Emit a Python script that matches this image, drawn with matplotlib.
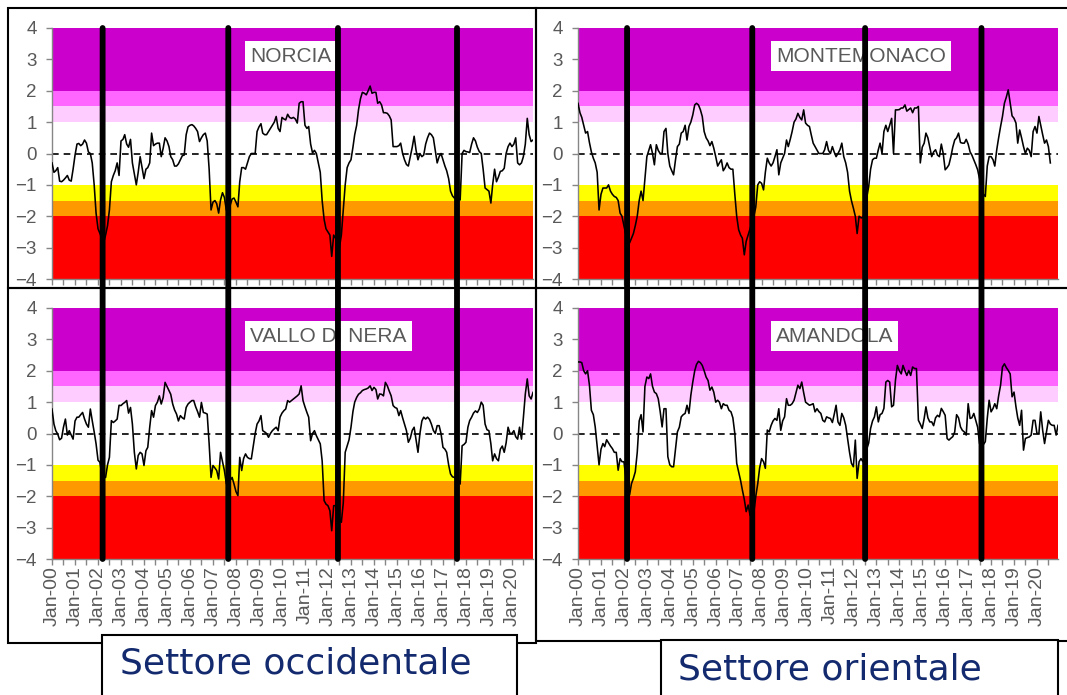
import matplotlib
matplotlib.use("Agg")
import matplotlib.pyplot as plt
import matplotlib.dates as mdates
from matplotlib.patches import Rectangle, ConnectionPatch
import pandas as pd
import numpy as np

plt.rcParams['font.family'] = ['Liberation Sans', 'DejaVu Sans']

# --- dati: indice mensile da gen-2000 ---
norcia = [
    -0.3, -0.6, -0.55, -0.45, -0.88, -0.9, -0.85, -0.78, -0.7, -0.85, -0.88, -0.5,
    -0.05, 0.3, 0.32, 0.25, 0.3, 0.43, 0.33, 0.05, 0.0, -0.3, -1.0, -1.9,
    -2.4, -2.55, -2.7, -2.85, -2.6, -2.3, -1.8, -0.9, -0.7, -0.55, -0.3, -0.7,
    0.4, 0.45, 0.6, 0.3, 0.2, 0.45, -0.3, -0.65, -1.0, -0.6, -0.1, -0.45,
    -0.8, -0.5, -0.45, -0.3, 0.65, 0.25, 0.3, 0.33, 0.33, -0.1, 0.17, 0.5,
    0.4, 0.22, -0.1, -0.2, -0.4, -0.4, -0.33, -0.2, -0.07, -0.05, 0.6, 0.85,
    0.9, 0.92, 0.88, 0.8, 0.7, 0.38, 0.5, 0.6, 0.65, 0.4, -0.5, -1.8,
    -1.55, -1.5, -1.6, -1.9, -1.48, -1.25, -1.4, -1.8, -1.9, -1.65, -1.45, -1.42,
    -1.55, -1.7, -0.9, -0.45, -0.45, -0.5, -0.3, -0.1, 0.0, 0.0, 0.0, 0.7,
    0.85, 0.95, 0.65, 0.6, 0.6, 0.7, 0.8, 0.9, 1.0, 1.18, 0.8, 0.7,
    1.15, 1.1, 1.07, 1.25, 1.15, 1.12, 1.15, 1.1, 0.97, 1.6, 1.65, 1.65,
    0.9, 0.8, 0.86, 0.3, 0.02, 0.1, 0.0, -0.3, -0.6, -1.5, -2.1, -2.4,
    -2.5, -2.6, -3.28, -2.6, -2.7, -2.9, -3.0, -2.6, -1.8, -1.0, -0.45, -0.3,
    -0.2, 0.2, 0.6, 0.9, 1.4, 1.75, 1.95, 1.92, 1.87, 2.0, 2.15, 1.92,
    1.95, 1.95, 1.6, 1.65, 1.55, 1.3, 1.3, 1.28, 1.2, 1.07, 0.22, 0.22,
    0.22, 0.25, 0.33, 0.0, -0.2, -0.35, -0.4, -0.1, 0.2, 0.55, 0.1, -0.2,
    0.0, -0.1, -0.05, 0.3, 0.5, 0.65, 0.6, 0.5, 0.1, -0.3, -0.1, 0.0,
    -0.2, -0.4, -0.55, -0.8, -1.2, -1.35, -1.42, -1.42, -1.42, -1.48, 0.0, 0.1,
    0.06, 0.05, 0.03, 0.3, 0.5, 0.4, 0.2, 0.06, 0.0, -0.5, -1.1, -1.15,
    -1.2, -1.58, -1.0, -0.5, -0.9, -0.75, -0.57, -0.55, -0.47, 0.0, 0.22, 0.33,
    0.22, 0.3, 0.5, -0.3, -0.36, -0.3, -0.1, 0.3, 1.12, 0.6, 0.38, 0.43,
]

montemonaco = [
    1.6, 1.3, 1.15, 0.9, 0.65, 0.7, 0.35, 0.05, -0.15, -0.3, -0.6, -1.8,
    -1.3, -1.1, -1.1, -1.1, -1.0, -1.2, -1.3, -1.37, -1.4, -1.5, -1.9, -2.0,
    -2.3, -2.6, -2.8, -2.85, -2.7, -2.55, -2.3, -2.0, -1.5, -1.2, -1.5, -0.8,
    -0.1, 0.1, 0.28, 0.0, -0.36, 0.28, 0.1, 0.0, 0.0, 0.7, 0.8, 0.0,
    -0.4, -0.55, -0.68, -0.2, 0.22, 0.3, 0.65, 0.7, 0.9, 0.43, 0.86, 1.0,
    1.23, 1.55, 1.6, 1.55, 1.4, 1.18, 0.7, 0.5, 0.4, 0.25, 0.38, 0.17,
    -0.1, -0.4, -0.3, -0.2, -0.55, -0.45, -0.3, -0.45, -0.5, -0.5, -1.3, -2.0,
    -2.43, -2.6, -2.7, -3.23, -2.8, -2.6, -2.4, -2.2, -2.0, -1.7, -1.0, -0.9,
    -0.95, -1.16, -0.6, -0.15, -0.3, -0.4, -0.3, -0.1, 0.12, -0.68, -0.3, -0.15,
    0.0, 0.43, 0.22, 0.45, 0.7, 1.0, 1.1, 1.28, 1.15, 1.07, 1.39, 0.97,
    0.9, 0.86, 0.6, 0.33, 0.22, 0.1, 0.0, 0.0, 0.0, 0.12, 0.38, 0.1,
    0.0, 0.22, 0.05, -0.1, 0.0, 0.12, 0.33, -0.1, -0.3, -0.6, -1.2, -1.5,
    -1.74, -2.0, -2.55, -2.0, -2.05, -2.05, -1.8, -1.4, -1.05, -0.5, -0.2, -0.15,
    -0.15, 0.12, 0.33, 0.0, 0.7, 0.9, 0.7, 0.9, 1.12, 0.0, 1.39, 1.39,
    1.4, 1.45, 1.45, 1.55, 1.35, 1.4, 1.45, 1.3, 1.45, 1.45, 1.5, -0.3,
    0.2, 0.33, 0.65, 0.5, 0.2, -0.1, 0.05, 0.12, -0.05, -0.1, 0.3, 0.0,
    -0.52, -0.45, -0.36, -0.1, 0.2, 0.43, 0.5, 0.65, 0.35, 0.33, 0.33, 0.45,
    0.3, 0.05, -0.05, -0.2, -0.35, -0.52, -0.8, -1.1, -1.3, -1.37, -0.4, -0.1,
    -0.1, -0.2, -0.4, 0.12, 0.5, 0.86, 1.18, 1.6, 1.8, 2.03, 1.6, 1.2,
    1.12, 0.97, 0.33, 0.75, 0.5, 0.22, 0.0, 0.17, 0.1, -0.1, 0.7, 0.86,
    0.65, 1.18, 0.9, 0.6, 0.33, 0.43, 0.22, -0.3,
]

vallo_di_nera = [
    0.78, 0.3, 0.09, -0.02, -0.2, -0.15, 0.2, 0.46, -0.05, 0.09, -0.05, -0.18,
    0.4, 0.52, 0.52, 0.6, 0.67, 0.46, 0.3, 0.2, 0.78, 0.41, 0.05, -0.33,
    -0.85, -0.92, -1.3, -1.4, -1.4, -1.0, -0.76, 0.41, 0.35, 0.4, 0.46, 0.9,
    0.89, 0.95, 0.99, 1.05, 0.65, 0.83, 0.3, -0.6, -1.13, -0.7, -0.6, -0.65,
    -1.02, -0.55, -0.44, 0.2, 0.73, 0.52, 0.89, 1.0, 1.2, 0.94, 1.15, 1.63,
    1.5, 1.37, 1.25, 0.94, 0.75, 0.62, 0.4, 0.57, 0.5, 0.46, 0.83, 0.94,
    1.0, 1.05, 1.05, 0.85, 0.7, 0.52, 0.99, 0.67, 0.65, 0.62, -0.33, -1.4,
    -1.02, -1.1, -1.18, -1.45, -0.6, -0.9, -1.18, -1.6, -1.61, -1.5, -1.4, -1.61,
    -1.85, -1.98, -0.76, -1.18, -0.8, -0.65, -0.76, -0.8, -0.81, -0.4, 0.0, 0.3,
    0.4, 0.57, 0.09, 0.05, 0.0, -0.12, 0.0, 0.09, 0.15, 0.2, 0.09, 0.52,
    0.65, 0.73, 0.78, 1.05, 1.0, 1.05, 1.1, 1.15, 1.2, 1.26, 1.52, 1.05,
    0.85, 0.67, 0.52, -0.23, 0.0, 0.09, -0.07, -0.2, -0.33, -0.87, -2.14, -2.25,
    -2.3, -2.46, -3.1, -2.3, -2.3, -2.5, -2.7, -2.83, -2.2, -0.6, -0.4, -0.2,
    0.2, 0.7, 1.0, 1.15, 1.25, 1.3, 1.37, 1.4, 1.42, 1.45, 1.52, 1.37,
    1.47, 1.4, 1.1, 1.26, 1.25, 1.2, 1.63, 1.52, 1.35, 1.2, 0.89, 0.83,
    0.8, 0.57, 0.73, 0.5, 0.3, 0.09, -0.28, -0.15, 0.1, 0.2, -0.2, -0.6,
    0.0, 0.4, 0.52, 0.46, 0.52, 0.45, 0.3, 0.1, 0.0, 0.25, 0.25, 0.0,
    -0.44, -0.5, -0.6, -1.0, -1.29, -1.38, -1.4, -1.45, -1.5, -1.61, -0.39, -0.35,
    -0.28, 0.2, 0.41, 0.52, 0.65, 0.72, 0.67, 0.78, 1.0, 0.9, 0.3, 0.12,
    0.09, -0.33, -0.87, -0.65, -0.8, -0.87, -0.5, -0.4, -0.6, -0.3, 0.2, 0.0,
    0.0, 0.09, -0.1, -0.18, 0.2, -0.18, 0.5, 1.26, 1.74, 1.2, 1.1, 1.31,
]

amandola = [
    2.28, 2.28, 2.26, 2.0, 1.9, 2.0, 1.54, 0.74, 0.6, 0.21, -0.4, -1.0,
    -0.5, -0.32, -0.42, -0.2, -0.3, -0.4, -0.48, -0.6, -0.6, -1.17, -0.8, -0.9,
    -0.9, -1.4, -1.9, -1.96, -1.6, -1.43, -1.22, -0.6, 0.4, 0.6, 0.05, 1.5,
    1.8, 1.75, 1.9, 1.5, 1.32, 1.27, 1.11, 0.7, 0.21, 0.79, 0.79, -0.74,
    -1.0, -1.06, -1.06, -0.5, 0.05, 0.2, 0.53, 0.6, 0.64, 0.9, 0.64, 1.22,
    1.64, 2.0, 2.2, 2.3, 2.26, 2.17, 2.0, 1.8, 1.69, 1.38, 1.48, 1.32,
    1.0, 1.06, 1.0, 0.79, 0.95, 0.9, 0.9, 0.74, 0.69, 0.5, 0.0, -0.95,
    -1.22, -1.5, -1.8, -2.1, -2.49, -2.28, -2.6, -2.7, -2.5, -2.0, -1.6, -1.1,
    -0.8, -0.9, -1.11, 0.11, 0.05, 0.26, 0.4, 0.48, 0.42, 0.79, 0.1, 0.4,
    0.53, 1.11, 0.9, 0.9, 0.95, 1.06, 1.3, 1.54, 1.43, 1.64, 1.3, 1.0,
    0.95, 0.9, 0.92, 0.95, 0.69, 0.79, 0.7, 0.64, 0.42, 0.37, 0.53, 0.5,
    0.48, 0.35, 0.6, 0.9, 0.37, 0.26, 0.64, 0.5, 0.26, -0.16, -0.6, -0.95,
    -1.06, -0.21, -1.43, -0.9, -0.8, -0.9, -0.7, -0.5, -0.3, 0.16, 0.4, 0.53,
    0.85, 0.37, 0.6, 0.64, 0.8, 1.64, 1.69, 1.64, 0.85, 0.9, 1.7, 2.17,
    2.0, 1.9, 2.17, 2.0, 1.85, 2.01, 1.85, 2.12, 2.07, 2.07, 0.42, 0.3,
    0.16, 0.48, 0.85, 0.5, 0.37, 0.37, 0.25, 0.5, 0.58, 0.53, 0.8, 0.7,
    0.58, -0.16, -0.21, -0.15, -0.1, 0.05, 0.6, 0.5, 0.21, 0.1, 0.05, -0.05,
    0.95, 0.48, 0.5, 0.64, 0.42, 0.2, -0.32, -0.4, -0.35, -0.26, 0.48, 1.06,
    0.69, 0.8, 0.95, 0.79, 1.2, 1.54, 2.12, 2.22, 2.1, 2.01, 1.9, 1.17,
    1.32, 0.85, 0.5, 0.26, 0.74, -0.53, -0.16, -0.13, -0.11, -0.05, 0.42, 0.42,
    0.0, 0.0, 0.69, 0.1, -0.32, 0.05, 0.42, 0.3, 0.26, 0.26, -0.05, 0.26,
]

stations = ["NORCIA", "MONTEMONACO", "VALLO DI NERA", "AMANDOLA"]
series = [norcia, montemonaco, vallo_di_nera, amandola]

# eventi siccitosi (linee verticali nere)
eventi_occ = ["2002-03-15", "2007-09-01", "2012-06-08", "2017-08-12"]
eventi_ori = ["2002-02-20", "2007-08-06", "2012-07-06", "2017-08-01"]

# classi dell'indice
bande = [(-4, -2, '#FF0000'), (-2, -1.5, '#FF9900'), (-1.5, -1, '#FFFF00'),
         (-1, 1, '#FFFFFF'), (1, 1.5, '#FFCCFF'), (1.5, 2, '#FF66FF'),
         (2, 4, '#CC00CC')]

W, H = 1067, 695
fig = plt.figure(figsize=(W / 100, H / 100), dpi=100)
fig.patch.set_facecolor('white')

# riquadri (come immagini incollate)
def fig_rect(x0, y0, x1, y1, **kw):
    r = Rectangle((x0 / W, 1 - y1 / H), (x1 - x0) / W, (y1 - y0) / H,
                  transform=fig.transFigure, **kw)
    fig.add_artist(r)
    return r

for (x0, y0, x1, y1) in [(8, 8, 536, 288), (536, 8, 1075, 288),
                         (8, 288, 536, 643), (536, 288, 1075, 641)]:
    fig_rect(x0, y0, x1, y1, fill=False, ec='black', lw=1.5, zorder=-1)

# assi
pos = [(52, 28, 533, 279), (578, 28, 1058, 279),
       (52, 308, 533, 559), (578, 308, 1058, 559)]
axes = []
t0, t1 = pd.Timestamp('2000-01-01'), pd.Timestamp('2020-12-01')
gray = '#868686'
for i, (x0, y0, x1, y1) in enumerate(pos):
    ax = fig.add_axes([x0 / W, 1 - y1 / H, (x1 - x0) / W, (y1 - y0) / H])
    for lo, hi, c in bande:
        ax.axhspan(lo, hi, color=c, lw=0, zorder=0)
    ax.axhline(0, color='black', lw=1.2, ls=(0, (4, 3)), zorder=2)
    vals = series[i]
    dates = pd.date_range('2000-01-01', periods=len(vals), freq='MS')
    ax.plot(dates, vals, color='black', lw=1.15, zorder=3)

    ax.set_xlim(t0, t1)
    ax.set_ylim(-4, 4)
    ax.set_yticks(np.arange(-4, 5, 1))
    ax.xaxis.set_major_locator(mdates.YearLocator())
    ax.xaxis.set_major_formatter(mdates.DateFormatter('%b-%y'))
    ax.xaxis.set_minor_locator(mdates.MonthLocator(bymonth=7))
    for s in ['top', 'right']:
        ax.spines[s].set_visible(False)
    for s in ['left', 'bottom']:
        ax.spines[s].set_color(gray)
        ax.spines[s].set_linewidth(1.0)
    ax.tick_params(axis='both', which='both', direction='out', length=4,
                   color=gray, width=1.0)
    ax.tick_params(axis='y', labelsize=13.5, labelcolor='#595959', pad=7)
    ax.tick_params(axis='x', labelsize=14, labelcolor='#595959', pad=1,
                   labelrotation=90, labelbottom=(i >= 2))
    ax.text(0.412, 0.888, stations[i], transform=ax.transAxes, ha='left',
            va='center', fontsize=15, color='#595959',
            bbox=dict(boxstyle='square,pad=0.25', fc='white', ec='none'),
            zorder=5)
    axes.append(ax)

# linee verticali degli eventi attraverso le due righe
for col, eventi in [(0, eventi_occ), (1, eventi_ori)]:
    ax_top, ax_bot = axes[col], axes[col + 2]
    for d in eventi:
        xn = mdates.date2num(pd.Timestamp(d))
        cp = ConnectionPatch(xyA=(xn, 4), coordsA=ax_top.transData,
                             xyB=(xn, -4), coordsB=ax_bot.transData,
                             color='black', lw=4.2, zorder=10)
        fig.add_artist(cp)

# etichette dei settori
fig_rect(102, 635, 517, 700, fc='white', ec='black', lw=1.5, zorder=11)
fig_rect(661, 640, 1058, 700, fc='white', ec='black', lw=1.5, zorder=11)
fig.text(120 / W, 1 - 664 / H, 'Settore occidentale', fontsize=26,
         color='#132a6e', family='DejaVu Sans', ha='left', va='center',
         zorder=12)
fig.text(678 / W, 1 - 669 / H, 'Settore orientale', fontsize=26,
         color='#132a6e', family='DejaVu Sans', ha='left', va='center',
         zorder=12)

fig.savefig('out.png', dpi=100)
